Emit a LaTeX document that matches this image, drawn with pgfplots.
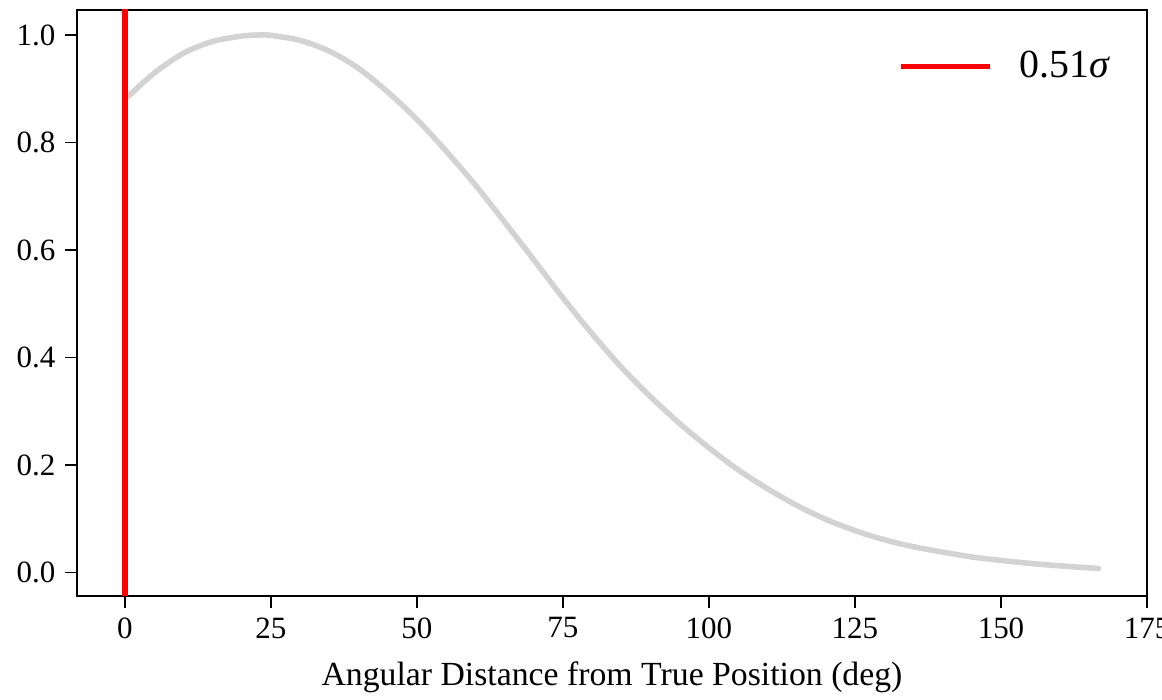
\documentclass[border=0pt]{standalone}
\usepackage{fontspec}
\setmainfont{Liberation Serif}
\usepackage{pgfplots}
\pgfplotsset{compat=1.18}
\definecolor{curvegray}{HTML}{D3D3D3}
\begin{document}
\begin{tikzpicture}
\begin{axis}[
  scale only axis,
  width=386.75pt, height=211.8pt,
  xmin=-8.2, xmax=175, ymin=-0.0436, ymax=1.0466,
  xtick={0,25,50,75,100,125,150,175},
  ytick={0,0.2,0.4,0.6,0.8,1.0},
  /pgf/number format/assume math mode=true,
  yticklabel style={/pgf/number format/.cd, fixed, fixed zerofill, precision=1},
  xticklabel style={/pgf/number format/.cd, fixed, precision=0},
  tick label style={font=\fontsize{11.2}{13}\selectfont, text=black},
  label style={font=\fontsize{12.2}{14}\selectfont},
  xlabel style={yshift=-1.5pt},
  tick align=outside, xtick pos=bottom, ytick pos=left,
  major tick length=4.3pt,
  every tick/.style={black, line width=0.7pt},
  axis line style={black, line width=0.8pt},
  xlabel={Angular Distance from True Position (deg)},
  legend style={at={(0.979,0.903)}, anchor=east, draw=none, fill=none,
    font=\fontsize{14.4}{16}\selectfont},
  legend image code/.code={\path[draw=none] (0pt,0pt) -- (41pt,0pt); \draw[#1] (0pt,0pt) -- (32.5pt,0pt);},
  legend cell align=left,
]
\addplot[curvegray, line width=2pt, line cap=round, smooth, forget plot] coordinates {
(0.6,0.886) (5,0.929) (10,0.966) (15,0.988) (20,0.998) (23,1.000) (25,0.9993)
(30,0.990) (35,0.970) (40,0.938) (45,0.894) (50,0.843) (55,0.784) (60,0.721)
(65,0.652) (70,0.582) (75,0.511) (80,0.444) (85,0.382) (90,0.327) (95,0.277)
(100,0.232) (105,0.191) (110,0.156) (115,0.125) (120,0.099) (125,0.078)
(130,0.061) (135,0.048) (140,0.038) (145,0.029) (150,0.0225) (155,0.0170)
(160,0.0125) (166.7,0.0076)
};
\addplot[red, line width=1.9pt] coordinates {(0,-0.1) (0,1.2)};
\addlegendentry{0.51\textit{σ}}
\coordinate (SW) at (rel axis cs:0,0);
\coordinate (NE) at (rel axis cs:1,1);
\end{axis}
\pgfresetboundingbox
\path[use as bounding box] ([shift={(-27.83pt,-37.6pt)}]SW) rectangle ([shift={(5.42pt,3.61pt)}]NE);
\end{tikzpicture}
\end{document}
